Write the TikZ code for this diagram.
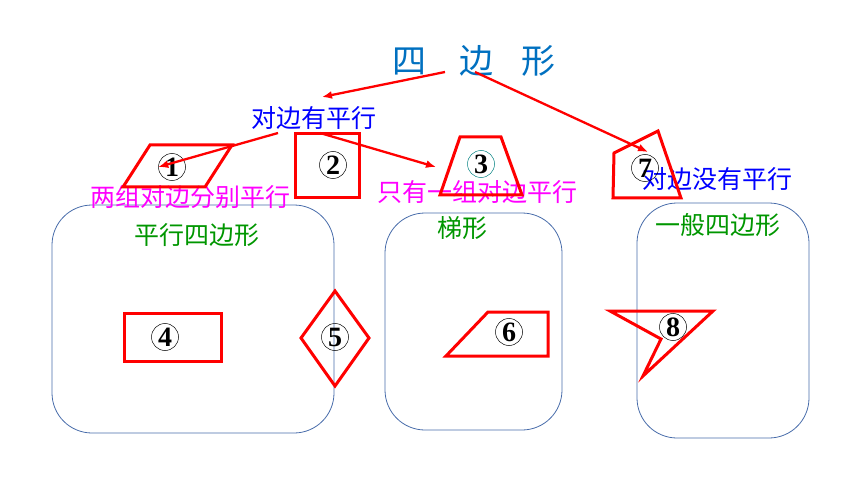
\documentclass[tikz,border=0pt]{standalone}
\usepackage{fontspec}
\setmainfont{Liberation Serif}
\newfontfamily\cjk{Noto Sans CJK SC}
\usetikzlibrary{arrows.meta}
\definecolor{titleblue}{RGB}{0,112,192}
\definecolor{boxblue}{RGB}{72,108,170}
\definecolor{lblgreen}{RGB}{0,150,0}
\definecolor{clsblue}{RGB}{0,0,255}
\definecolor{condpink}{RGB}{255,0,255}
\definecolor{sred}{RGB}{255,0,0}
\tikzset{
  shp/.style={draw=sred,line width=3pt,line join=miter},
  arr/.style={draw=sred,line width=2.3pt,-{Latex[length=10pt,width=8pt]}},
  grp/.style={draw=boxblue,line width=0.8pt,rounded corners=40pt},
  num/.style={circle,draw,line width=0.5pt,minimum size=27pt,inner sep=0pt,font=\fontsize{28}{28}\selectfont\bfseries},
  cls/.style={text=clsblue,font=\cjk\fontsize{25}{27}\selectfont},
  cond/.style={text=condpink,font=\cjk\fontsize{25}{27}\selectfont},
  kind/.style={text=lblgreen,font=\cjk\fontsize{25}{27}\selectfont},
  ttl/.style={text=titleblue,font=\cjk\fontsize{34}{34}\selectfont}
}
\begin{document}
\begin{tikzpicture}[x=1pt,y=-1pt]
\useasboundingbox (0,0) rectangle (860,484);
% groups
\draw[grp] (52,205) rectangle (334,433);
\draw[grp] (385,213) rectangle (562,430);
\draw[grp] (637,203) rectangle (809,438);
% titles
\node[ttl] (t1) at (409,61) {四};
\node[ttl] (t2) at (476,61) {边};
\node[ttl] (t3) at (538,61) {形};
\node[cls] (par) at (314,118) {对边有平行};
\node[cls] (nopar) at (717,179) {对边没有平行};
\node[cond] (two) at (190,197) {两组对边分别平行};
\node[cond] (one) at (477,192) {只有一组对边平行};
\node[kind] (pgram) at (197,235) {平行四边形};
\node[kind] (trap) at (462,228) {梯形};
\node[kind] (gen) at (718,225) {一般四边形};
% shapes
\draw[shp] (150,145) -- (232,145) -- (205,187) -- (123,187) -- cycle;
\draw[shp] (295,134) rectangle (359,198);
\draw[shp] (460,137) -- (501,137) -- (522,195) -- (440,195) -- cycle;
\draw[shp] (614,153) -- (658,131) -- (681,198) -- (613,198) -- cycle;
\draw[shp] (124,313) rectangle (221,361);
\draw[shp] (335,291) -- (369,338) -- (335,386) -- (301,338) -- cycle;
\draw[shp] (488,312) -- (548,312) -- (548,356) -- (446,356) -- cycle;
\draw[shp] (610,311) -- (713,311) -- (643,376) -- (661,339) -- cycle;
% numbers
\node[num] (n1) at (172,167) {1};
\node[num] (n2) at (333,165) {2};
\node[num,draw=teal] (n3) at (481,164) {3};
\node[num] (n4) at (165,337) {4};
\node[num] (n5) at (335,337) {5};
\node[num] (n6) at (509,332) {6};
\node[num] (n7) at (645,168) {7};
\node[num] (n8) at (673,327) {8};
% arrows
\coordinate (a1) at (445,72);
\coordinate (a2) at (322,97);
\coordinate (b1) at (278,133);
\coordinate (c1) at (320,133);
\coordinate (c2) at (436,167);
\coordinate (d1) at (475,72);
\coordinate (d2) at (648,152);
\draw[arr] (a1) -- (a2);
\draw[arr] (b1) -- (n1.west);
\draw[arr] (c1) -- (c2);
\draw[arr] (d1) -- (d2);
\end{tikzpicture}
\end{document}
